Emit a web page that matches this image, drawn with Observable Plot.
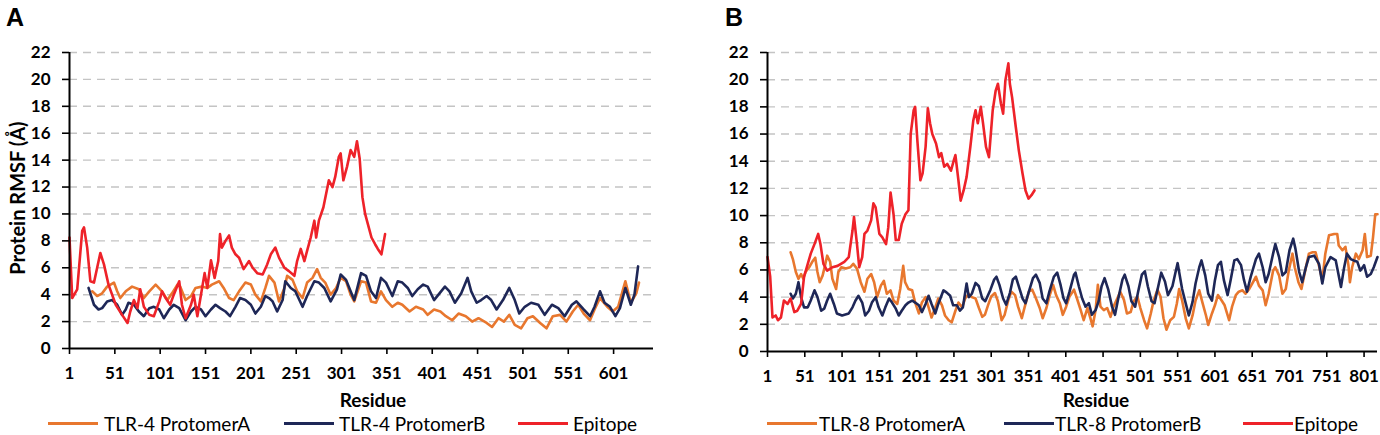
<!DOCTYPE html>
<html><head><meta charset="utf-8">
<script src="https://cdn.jsdelivr.net/npm/d3@7"></script>
<script src="https://cdn.jsdelivr.net/npm/@observablehq/plot@0.6"></script>
<style>
body{margin:0;background:#fff;}
#wrap{position:relative;width:1380px;height:435px;overflow:hidden;font-family:Lato,sans-serif;color:#000;}
.abs{position:absolute;white-space:nowrap;}
.letter{font-family:"Liberation Sans",Arial,sans-serif;font-weight:bold;font-size:25px;line-height:1;}
.xlab{font-size:19px;font-weight:bold;transform:translate(-50%,-50%);}
.ylab{font-size:20px;font-weight:bold;transform:translate(-50%,-50%) rotate(-90deg);}
.sw{height:3px;}
.lt{font-size:19px;transform:translateY(-50%);}
.plot{position:absolute;top:0;}
</style>
</head><body>
<div id="wrap"></div>
<script>
// ---- data ----
const yTicks = [0,2,4,6,8,10,12,14,16,18,20,22];
const xTicksA = [1,51,101,151,201,251,301,351,401,451,501,551,601];
const xTicksB = [1,51,101,151,201,251,301,351,401,451,501,551,601,651,701,751,801];
const seriesNamesA = ["TLR-4 ProtomerA","TLR-4 ProtomerB","Epitope"];
const seriesNamesB = ["TLR-8 ProtomerA","TLR-8 ProtomerB","Epitope"];
const colors = ["#E8772E","#1E2757","#EE2229"];

const tlr4A = [[26,4.25],[31.5,3.9],[37,4.1],[42.5,4.6],[50,4.9],[53.6,4.25],[57,3.75],[63,4.25],[70,4.6],[77.5,4.4],[83,3.75],[89,4.25],[96,4.75],[103,4.25],[109,3.6],[114,4.1],[120,4.75],[123,4.6],[129,3.6],[135,3.9],[140,4.5],[147,4.6],[153,4.5],[158,4.75],[166,5.0],[171,4.5],[177,3.75],[182,3.6],[188,4.25],[195,4.9],[201,4.75],[206,4.0],[212,3.5],[217,4.5],[221,5.4],[227,4.9],[232,3.5],[238,4.5],[241,5.4],[247,5.1],[252,4.25],[258,3.75],[263,4.9],[269,5.25],[274,5.9],[278,5.25],[283,4.9],[289,4.0],[295,4.5],[300,5.25],[306,5.0],[311,4.0],[315,3.5],[322.5,5.0],[328,4.9],[333.5,3.5],[339,3.4],[344.5,4.25],[350,3.6],[357,3.1],[363,3.4],[368,3.25],[376,2.75],[383,3.1],[391,2.9],[396,2.5],[403,2.9],[410,2.75],[416,2.4],[423,2.1],[430,2.6],[438,2.4],[445,2.0],[452,2.25],[461,1.9],[467,1.6],[474,2.25],[480,2.0],[486,2.5],[492,1.75],[499,1.5],[506,2.25],[512,2.4],[520,1.9],[527,1.5],[534,2.4],[542,2.5],[549,2.0],[556,2.75],[562,3.25],[568,2.6],[575,2.1],[580,2.9],[586,3.75],[594,3.1],[600,2.75],[606,3.1],[614,5.0],[620,3.4],[626,4.1],[629,4.9]];
const tlr4B = [[22,4.5],[28,3.25],[33,2.9],[37,3.0],[42.5,3.5],[48,3.6],[53.6,3.25],[59,2.5],[63,2.9],[66,3.4],[72,3.25],[77.5,2.75],[83,2.4],[89,3.0],[94,3.1],[100,2.9],[105,2.25],[111,2.9],[116,3.25],[122,3.0],[129,2.1],[135,2.75],[140,3.1],[146,2.9],[151,2.4],[157,2.9],[162,3.25],[167,3.0],[173,2.75],[178,2.4],[184,3.1],[189,3.75],[195,3.6],[201,3.25],[206,2.6],[212,3.1],[217,3.9],[221,3.75],[225,3.5],[230,2.75],[236,3.6],[239,5.0],[245,4.5],[250,4.25],[258,3.1],[263,3.9],[271,5.0],[276,4.9],[282,4.5],[289,3.5],[296,4.4],[300,5.5],[306,5.1],[311,4.25],[315,3.6],[322.5,5.6],[328,5.4],[333.5,4.25],[339,3.75],[344.5,5.25],[350,4.9],[357,3.9],[363,5.0],[368,4.9],[374,4.5],[379,3.9],[385,4.4],[391,4.75],[396,4.6],[403,3.6],[409,4.1],[415,4.6],[420,4.25],[426,3.4],[433,4.1],[440,5.25],[444,4.25],[450,3.4],[455,3.6],[461,3.9],[466,3.6],[472,2.9],[479,3.6],[486,4.5],[492,3.6],[497,2.6],[503,3.1],[510,3.4],[518,3.25],[525,2.5],[533,3.25],[540,3.0],[547,2.4],[555,3.25],[560,3.5],[568,2.9],[575,2.4],[580,3.1],[586,4.25],[591,3.4],[597,3.1],[603,2.4],[608,3.0],[614,4.5],[620,3.25],[624,4.0],[628,6.1]];
const tlr4Epi = [[1,8.25],[4,3.75],[9.5,4.4],[15,8.75],[17,9.0],[20.5,7.5],[24,5],[28,4.9],[31.5,6],[35,7.1],[39,6.25],[44,4.75],[52,3.25],[59,2.5],[65,1.9],[68,2.75],[72,3.6],[76,3.0],[79,4.4],[83,3.1],[89,2.5],[94,2.4],[100,3.5],[103,4.25],[107,3.75],[112,3.25],[116,4.0],[122,5.0],[125,3.25],[129,2.25],[135,3.25],[138,4],[142,2.4],[146,4],[150,5.6],[153,4.5],[157,6.55],[161,5.25],[165,6.5],[167,8.5],[169,7.5],[173,8],[177,8.4],[180,7.5],[184,7],[188,6.75],[193,5.9],[199,6.5],[203,6],[208,5.6],[214,5.5],[219,6.25],[223,7],[228,7.5],[232,6.75],[238,6],[243,5.75],[249,5.4],[252,6.5],[256,7.4],[260,6.5],[263,7.25],[267,8.25],[271,9.5],[273,8.25],[276,9.5],[281,10.5],[287,12.5],[291,12],[294,12.75],[298,14.25],[300,14.5],[303,12.5],[307,13.5],[311,14.75],[315,14.25],[318,15.4],[321,14.1],[324,11.25],[327,10],[331,9],[334,8.25],[338,7.75],[341,7.4],[345,7],[349,8.5]];

const tlr8A = [[32,7.3],[35,6.8],[39,5.85],[42.5,5.35],[46,5.7],[49,5.35],[52,5.85],[57,6.2],[61,6.6],[65,6.9],[68,5.85],[71,5.1],[75,5.6],[78,6.3],[81,7.05],[85,6.6],[88,5.35],[93,4.6],[96,5.85],[100,6.2],[106,6.1],[112,6.2],[116,6.45],[121,6.1],[126,5.1],[131,4.4],[135,5.35],[140,5.7],[144,5.1],[148,4.0],[153,4.85],[157,5.2],[161,4.25],[166,4.5],[170,3.75],[175,3.5],[179,4.6],[183,6.3],[185.5,5.1],[190,4.6],[195,4.5],[199,3.6],[204,2.8],[208,3.6],[213,4.0],[217,3.25],[221,2.5],[226,3.25],[230,3.9],[235,3.4],[239,2.65],[244,2.3],[248,2.15],[253,3.0],[257,3.6],[262,3.25],[266,3.9],[271,4.25],[275,4.0],[280,3.9],[284.5,3.2],[289,2.55],[292.5,2.7],[297,3.45],[301,4.05],[306,4.3],[310,3.7],[315,2.3],[319,2.7],[324,3.8],[328,4.4],[333,4.15],[337,3.3],[342,2.45],[346,3.3],[351.5,4.4],[356,4.55],[360,4.05],[366,3.2],[370,2.45],[375,3.2],[379,4.05],[384,4.9],[388,4.15],[393,3.55],[397,2.7],[401.5,3.3],[406,4.05],[412,4.55],[416,3.9],[421,3.05],[425,2.3],[430,3.2],[434,2.45],[437,1.85],[441,3.05],[444,4.9],[447.5,3.3],[452,3.05],[456.5,3.2],[461,2.55],[465,3.3],[470,3.9],[474,4.4],[479,3.8],[483,2.8],[488,2.9],[492,3.7],[497,4.05],[501,3.2],[506,2.3],[510,1.7],[515,2.8],[519,3.8],[524,4.55],[528,4.05],[532,2.45],[536,1.6],[541,2.3],[546,2.55],[550,3.55],[553,4.6],[557,3.75],[562,2.4],[566,1.7],[571,2.65],[575,3.75],[580,4.5],[584,3.65],[589,2.65],[592,1.95],[597,2.8],[601,3.4],[605,4.15],[610,3.75],[614,3.4],[620,2.3],[624,3.3],[629,4.15],[633,4.4],[638,4.5],[642,4.25],[647,4.6],[651,5.0],[656,5.5],[660,4.85],[665,4.5],[669,3.4],[673,4.25],[679,5.95],[682,6.2],[687,5.6],[691.5,4.25],[696,4.6],[700,5.95],[705,7.2],[708,6.2],[713,5.1],[717,4.6],[723,6.2],[727,7.2],[732,7.3],[736,7.3],[741,6.2],[745,5.25],[749,7.2],[754,8.55],[761,8.65],[765,8.65],[767,7.8],[772,7.45],[776,7.7],[780,6.35],[782,5.1],[785,6.2],[790,7.2],[794,6.8],[799,7.45],[802,8.65],[805,6.95],[810,7.05],[813,8.4],[816,10.1],[819,10.1]];
const tlr8B = [[32,4.25],[35,3.9],[39,4.25],[42.5,5.1],[46,4.0],[50,3.25],[55,3.25],[59,3.75],[64,4.5],[68,4.0],[73,3.0],[77,3.15],[81,3.75],[85,4.25],[90,3.5],[94,2.8],[101,2.65],[110,2.8],[115,3.25],[119,3.75],[123,4.1],[128,3.6],[132,2.65],[137,3.0],[141,3.6],[146,4.0],[150,3.25],[155,2.65],[159,3.25],[164,3.9],[168,3.6],[173,3.15],[177,2.65],[181,3.0],[186,3.4],[190,3.6],[195,3.75],[199,3.6],[204,3.4],[208,2.9],[213,3.5],[217,4.1],[221,3.5],[226,2.8],[230,3.5],[237,4.5],[241,4.35],[246,4.1],[250,3.4],[255,3.4],[259,3.0],[263,3.25],[268,5.0],[271,4.0],[275,4.25],[280,5.05],[284.5,4.8],[289,3.9],[293,3.7],[300,4.55],[305,5.3],[308,5.5],[312,4.9],[317,3.9],[321,3.45],[326,4.3],[330,5.3],[334,5.5],[338,4.8],[343,3.9],[347,3.55],[351.5,4.4],[357,5.4],[361,5.65],[366,5.05],[370,3.9],[375,3.55],[379,4.4],[385,5.5],[389.5,5.8],[394,4.9],[398,3.9],[401.5,3.55],[406,4.4],[412,5.65],[414,5.8],[418.5,4.8],[423,3.9],[427.5,3.3],[432,3.55],[436,2.7],[441,3.05],[445,3.7],[449,4.8],[453,5.4],[458,4.55],[463,3.3],[467,2.7],[471,3.8],[477,5.3],[480,5.65],[485,4.8],[489,3.7],[494,3.3],[498,4.4],[503,5.65],[507,5.9],[511,4.8],[516,3.7],[520,3.55],[525,4.8],[529,5.8],[534,5.15],[538,4.15],[544,4.8],[548,5.8],[551,6.5],[553,5.85],[557,4.6],[562,3.5],[566,2.65],[571,3.65],[575,5.0],[580,6.2],[583,6.7],[588,5.6],[592,4.25],[597,3.75],[601,5.25],[605,6.35],[609,6.6],[613,5.25],[618,4.15],[622,5.25],[627,6.7],[631,6.8],[636,6.35],[640,5.25],[644,4.4],[649,5.5],[656,6.8],[660,7.2],[665,6.2],[669,5.1],[673,5.7],[679,7.2],[682,7.9],[687,6.95],[691.5,5.6],[696,5.85],[701,7.45],[706,8.3],[709,7.55],[714,5.85],[718,5.1],[723,6.2],[727,6.95],[734,7.05],[740.5,6.45],[745,5.0],[749,6.2],[756,6.95],[763,6.7],[770,4.75],[774,6.1],[778,7.2],[783,6.8],[787,6.7],[792,6.6],[796,5.95],[801,6.35],[805,5.5],[810,5.7],[814,6.2],[819,6.95]];
const tlr8Epi = [[1,6.95],[4.6,5.5],[7.7,2.5],[12,2.65],[15,2.3],[19,2.5],[23,3.75],[28,3.5],[32,3.9],[37,2.9],[41,3.0],[46,3.5],[50,5.5],[55,6.45],[59,7.2],[64,7.9],[69,8.65],[72,7.9],[76,6.45],[81,5.95],[88,6.2],[95,6.3],[104,6.6],[110,6.95],[115,8.9],[117,9.9],[121,7.9],[124,6.2],[128,6.95],[131,8.65],[135,8.9],[140,9.65],[143,10.9],[146,10.6],[151,8.65],[155,8.4],[160,7.9],[163,9.15],[166,11.7],[170,10.1],[173,8.2],[177,8.2],[181,9.4],[186,10.1],[190,10.4],[193,16.0],[197,17.75],[199,18.0],[202,15.5],[206,12.6],[209,13.1],[213,15.05],[216,17.9],[219,16.8],[222,16.0],[227,15.3],[231,14.3],[234,14.6],[238,13.6],[242,13.8],[247,13.3],[251,14.1],[253,14.45],[257,12.6],[260,11.1],[264,11.85],[268,12.85],[273,15.05],[277,17.0],[280,17.75],[283,16.8],[287,18.0],[290,16.8],[294,15.05],[298,14.3],[303,17.75],[307,19.2],[310,19.7],[314,18.25],[317,17.5],[320,19.95],[324,21.2],[326,19.7],[329,18.7],[334,16.5],[338,14.8],[343,13.1],[347,11.85],[351,11.25],[355,11.5],[359,11.85]];

// ---- drawing ----
function panel(series, xMax, xTicks, mLeft, mRight, mBottom) {
  return Plot.plot({
    width: 690, height: 400,
    marginTop: 52, marginBottom: mBottom, marginLeft: mLeft, marginRight: mRight,
    x: {domain: [1, xMax]},
    y: {domain: [0, 22]},
    style: {fontFamily: "Lato, sans-serif", fontSize: "17px", fontWeight: "bold", color: "#000", background: "transparent", overflow: "visible"},
    marks: [
      Plot.gridY(yTicks.filter(d => d > 0), {stroke: "#c4c4c4", strokeOpacity: 1, strokeWidth: 1.4, strokeDasharray: "8,6"}),
      ...series.map((s, i) => Plot.line(s, {x: d => d[0], y: d => d[1], stroke: colors[i], strokeWidth: 2.6})),
      Plot.ruleX([1], {stroke: "#000", strokeWidth: 2}),
      Plot.ruleY([0], {stroke: "#000", strokeWidth: 2}),
      Plot.axisY(yTicks, {tickSize: 7, tickPadding: 12, label: null, strokeWidth: 1.6, fill: "#000"}),
      Plot.axisX(xTicks, {tickSize: 6, tickPadding: 12, label: null, strokeWidth: 1.6, fill: "#000"})
    ]
  });
}

const wrap = document.getElementById("wrap");
const pA = panel([tlr4A, tlr4B, tlr4Epi], 645, xTicksA, 69, 37, 52);
pA.classList.add("plot"); pA.style.left = "0px";
wrap.appendChild(pA);
const pB = panel([tlr8A, tlr8B, tlr8Epi], 819, xTicksB, 77, 3, 49);
pB.classList.add("plot"); pB.style.left = "690px";
wrap.appendChild(pB);

function addText(cls, text, left, top) {
  const d = document.createElement("div");
  d.className = "abs " + cls; d.textContent = text;
  d.style.left = left + "px"; d.style.top = top + "px";
  wrap.appendChild(d); return d;
}
addText("letter", "A", 6, 5);
addText("letter", "B", 725, 5);
addText("ylab", "Protein RMSF (Å)", 17, 198);
addText("xlab", "Residue", 373, 399);
addText("xlab", "Residue", 1096, 399);

function legend(names, swLefts, txtLefts) {
  names.forEach((n, i) => {
    const s = document.createElement("div");
    s.className = "abs sw";
    s.style.left = swLefts[i] + "px"; s.style.width = "50px"; s.style.top = "422px";
    s.style.background = colors[i];
    wrap.appendChild(s);
    addText("lt", n, txtLefts[i], 423);
  });
}
legend(seriesNamesA, [48, 284, 518], [104, 339, 573]);
legend(seriesNamesB, [767, 1004, 1243], [819, 1055, 1294]);
</script>
</body></html>
